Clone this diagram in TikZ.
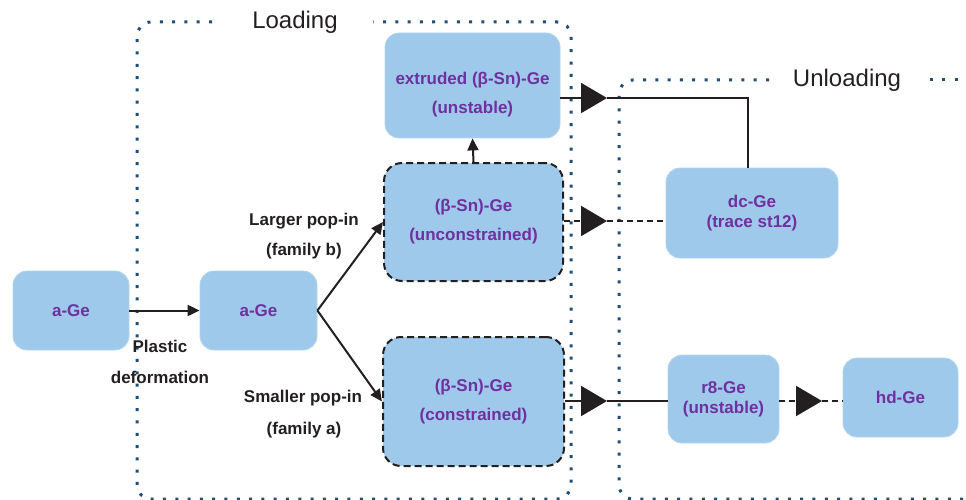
\documentclass[tikz,border=0pt]{standalone}
\usepackage{fontspec}
\setmainfont{Liberation Sans}
\usetikzlibrary{arrows.meta}
\definecolor{boxblue}{HTML}{9FC9EA}
\definecolor{boxedge}{HTML}{B3D4EF}
\definecolor{txtpurple}{HTML}{7030A0}
\definecolor{ink}{HTML}{231F20}
\definecolor{frameblue}{HTML}{1F4E79}
\tikzset{
  box/.style={rectangle, rounded corners=14pt, fill=boxblue, draw=boxedge, line width=0.8pt,
    inner sep=0pt, align=center, text=txtpurple,
    font=\bfseries\fontsize{17}{20}\selectfont},
  widebox/.style={box, font=\bfseries\fontsize{17}{29}\selectfont},
  dashbox/.style={widebox, draw=ink, line width=2pt, dash pattern=on 7pt off 4pt, rounded corners=18pt},
  lbl/.style={text=ink, font=\bfseries\fontsize{17}{20}\selectfont, inner sep=0pt},
  frame/.style={draw=frameblue, line width=3pt, dash pattern=on 3pt off 9.3pt, rounded corners=14pt},
  ttl/.style={text=ink, font=\fontsize{24}{28}\selectfont, inner sep=0pt},
  conn/.style={draw=ink, line width=2pt},
  arr/.style={conn, -{Triangle[length=12pt,width=11pt]}},
  bigtri/.style={conn, -{Triangle[length=26pt,width=30pt]}},
}
\begin{document}
\begin{tikzpicture}[x=1pt,y=-1pt]
\useasboundingbox (0,0) rectangle (966,500);
\clip (0,0) rectangle (966,500);

% frames
\draw[frame] (212,22) -- (137,22) -- (137,499) -- (571,499) -- (571,22) -- (373,22);
\node[ttl] (loading) at (295,22) {Loading};
\draw[frame] (769,80) -- (619,80) -- (619,499) -- (985,499);
\draw[frame, rounded corners=0pt] (930,80) -- (980,80);
\node[ttl] (unloading) at (847,80) {Unloading};

% boxes
\node[box, minimum width=116pt, minimum height=79pt] (a1) at (71,310.5) {a-Ge};
\node[box, minimum width=117pt, minimum height=79pt] (a2) at (258.5,310.5) {a-Ge};
\node[box, minimum width=175pt, minimum height=105pt] (ext) at (472.5,85.5) {};
\node[widebox, fill=none, draw=none] (extT) at (472.5,95) {extruded (β-Sn)-Ge\\(unstable)};
\node[dashbox, minimum width=179pt, minimum height=118pt] (unc) at (473.5,222) {(β-Sn)-Ge\\(unconstrained)};
\node[dashbox, minimum width=181pt, minimum height=129pt] (con) at (473.5,401.5) {(β-Sn)-Ge\\(constrained)};
\node[box, minimum width=172pt, minimum height=90pt] (dc) at (752,213) {dc-Ge\\(trace st12)};
\node[box, minimum width=111pt, minimum height=88pt] (r8) at (723.5,399) {r8-Ge\\(unstable)};
\node[box, minimum width=115pt, minimum height=79pt] (hd) at (900.5,397.5) {hd-Ge};

% labels
\node[lbl] (plastic) at (160,346) {Plastic};
\node[lbl] (deform) at (160,377) {deformation};
\node[lbl] (larger) at (304,221) {Larger pop-in};
\node[lbl] (famb) at (304,251) {(family b)};
\node[lbl] (smaller) at (303,398) {Smaller pop-in};
\node[lbl] (fama) at (304,430) {(family a)};

% connectors
\draw[arr] (a1.east) -- (a2.west);
\draw[arr] (a2.east) -- (unc.west);
\draw[arr] (a2.east) -- (con.west);
\draw[arr] (unc.north) -- (ext.south);

\coordinate (t1) at (607,98);
\coordinate (t2) at (607,221);
\coordinate (t3) at (607,401);
\coordinate (t4) at (822,401);
\coordinate (c1) at (748,98);

\draw[bigtri] (ext.east |- t1) -- (t1);
\draw[conn] (t1) -- (c1) -- (c1 |- dc.north);

\draw[bigtri, dash pattern=on 6pt off 4pt] (unc.east |- t2) -- (t2);
\draw[conn, dash pattern=on 6pt off 4pt] (t2) -- (t2 -| dc.west);

\draw[bigtri] (con.east |- t3) -- (t3);
\draw[conn] (t3) -- (t3 -| r8.west);

\draw[bigtri, dash pattern=on 6pt off 4pt] (r8.east |- t4) -- (t4);
\draw[conn, dash pattern=on 6pt off 4pt] (t4) -- (t4 -| hd.west);
\end{tikzpicture}
\end{document}
